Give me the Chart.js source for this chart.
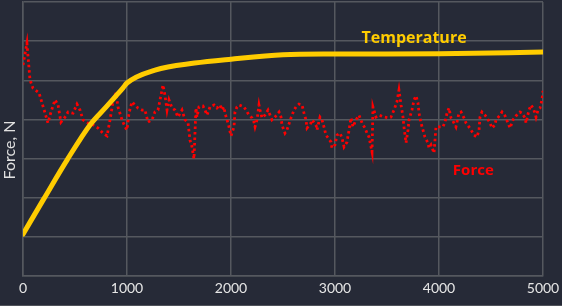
<!DOCTYPE html>
<html>
<head>
<meta charset="utf-8">
<script src="https://cdn.jsdelivr.net/npm/chart.js@4"></script>
<style>
  html, body { margin: 0; padding: 0; background: #262a37; }
  #wrap { width: 562px; height: 305px; border-bottom: 1px solid #4f525a; }
</style>
</head>
<body>
<div id="wrap"><canvas id="c" width="562" height="305"></canvas></div>
<script>
// ---- data ----
const xTickValues = [0, 1000, 2000, 3000, 4000, 5000];

const tempX = [0, 200, 423, 644, 800, 900, 960, 1000, 1270, 1650, 2000, 2500, 3000, 4000, 5000];
const tempY = [1.07, 1.97, 2.96, 3.86, 4.32, 4.62, 4.80, 4.93, 5.26, 5.44, 5.54, 5.65, 5.67, 5.68, 5.72];

const forceX = [0, 38, 67, 96, 154, 183, 231, 240, 269, 308, 337, 365, 404, 433, 481, 519, 548, 577, 625, 673, 721, 769, 808, 837, 865, 894, 913, 952, 981, 1000,
  1019, 1048, 1077, 1106, 1144, 1173, 1202, 1240, 1269, 1298, 1327, 1346, 1365, 1385, 1404, 1433, 1461, 1490, 1529, 1558, 1587, 1606, 1625, 1644, 1663, 1673, 1692,
  1731, 1750, 1769, 1798, 1837, 1865, 1894, 1913, 1933, 1942, 1962, 1981, 2000, 2029, 2038, 2058, 2077, 2125, 2144, 2173, 2202, 2221, 2231, 2250, 2269, 2279, 2298,
  2327, 2356, 2394, 2423, 2462, 2481, 2490, 2519, 2538, 2577, 2606, 2625, 2654, 2683, 2702, 2721, 2731, 2769, 2779, 2817, 2827, 2856, 2875, 2894, 2913, 2933, 2962,
  2971, 3000, 3019, 3048, 3067, 3087, 3115, 3135, 3154, 3173, 3202, 3231, 3260, 3288, 3308, 3327, 3356, 3365, 3394, 3423, 3471, 3510, 3538, 3567, 3596, 3615, 3635,
  3654, 3663, 3683, 3702, 3712, 3740, 3760, 3779, 3798, 3808, 3827, 3846, 3865, 3894, 3904, 3923, 3952, 3971, 4000, 4038, 4058, 4077, 4096, 4115, 4144, 4163, 4192,
  4212, 4240, 4260, 4288, 4308, 4337, 4365, 4385, 4394, 4413, 4442, 4462, 4490, 4510, 4538, 4548, 4587, 4606, 4635, 4663, 4683, 4712, 4740, 4779, 4798, 4827, 4837,
  4865, 4885, 4904, 4923, 4933, 4952, 4971, 4990, 5000];
const forceY = [5.39, 5.95, 5.01, 4.80, 4.68, 4.42, 3.99, 3.91, 4.19, 4.50, 4.37, 3.93, 4.06, 4.19, 4.16, 4.39, 4.24, 3.99, 3.91, 3.86, 3.78, 3.65, 3.58, 3.99, 4.45, 4.68, 4.32, 3.99, 3.81, 3.73,
  4.16, 4.45, 4.37, 4.29, 4.24, 4.24, 3.93, 3.99, 4.19, 4.24, 4.62, 4.88, 4.62, 4.24, 4.50, 4.29, 4.24, 4.06, 4.24, 3.99, 3.91, 3.47, 3.30, 2.99, 4.29, 4.06, 4.32,
  4.34, 4.24, 4.11, 4.32, 4.37, 4.29, 4.37, 4.24, 4.32, 4.16, 3.99, 3.81, 3.58, 3.81, 4.19, 4.32, 4.37, 4.32, 4.24, 4.11, 4.04, 3.93, 3.81, 3.99, 4.37, 4.24, 4.04,
  4.11, 4.24, 3.99, 4.06, 4.19, 4.06, 3.86, 3.65, 3.73, 4.04, 4.24, 4.32, 4.39, 4.37, 4.16, 3.99, 3.78, 3.91, 3.99, 3.86, 3.73, 4.06, 3.99, 3.81, 3.60, 3.53, 3.42,
  3.27, 3.35, 3.60, 3.65, 3.53, 3.30, 3.42, 3.73, 4.04, 3.81, 3.99, 4.11, 3.91, 3.78, 3.65, 3.55, 3.17, 4.32, 4.06, 4.11, 4.06, 4.04, 4.06, 4.24, 4.45, 4.75, 4.37,
  4.06, 3.81, 3.40, 3.73, 3.99, 4.24, 4.50, 4.60, 4.42, 4.16, 3.91, 3.73, 3.55, 3.40, 3.27, 3.35, 3.14, 3.81, 3.81, 3.81, 3.93, 4.16, 4.29, 4.04, 3.91, 3.81, 4.16,
  4.19, 4.04, 3.91, 3.81, 3.73, 3.60, 3.55, 3.73, 4.06, 4.19, 4.11, 4.04, 3.91, 3.78, 3.86, 3.99, 4.11, 4.19, 4.09, 3.91, 3.78, 3.99, 4.09, 4.19, 4.16, 4.04, 3.91,
  4.24, 4.37, 4.29, 4.16, 4.06, 4.24, 4.29, 4.50, 4.73];

const seriesLabels = [
  { text: 'Temperature', x: 3760, y: 6.06, color: '#ffcc00', font: '700 16px "Open Sans"' },
  { text: 'Force', x: 4330, y: 2.70, color: '#ff0000', font: '700 15px "Open Sans"' }
];
const yTitle = 'Force, N';

// ---- chart ----
const gridColor = '#55585f';

const labelPlugin = {
  id: 'labels',
  afterDraw(chart) {
    const ctx = chart.ctx;
    const xs = chart.scales.x, ys = chart.scales.y;
    ctx.save();
    ctx.textAlign = 'center';
    ctx.textBaseline = 'middle';
    seriesLabels.forEach(l => {
      ctx.font = l.font;
      ctx.fillStyle = l.color;
      ctx.fillText(l.text, xs.getPixelForValue(l.x), ys.getPixelForValue(l.y));
    });
    ctx.translate(10, 150);
    ctx.rotate(-Math.PI / 2);
    ctx.font = '400 16px Lato';
    ctx.fillStyle = '#e0e0e0';
    ctx.fillText(yTitle, 0, 0);
    ctx.restore();
  }
};

new Chart(document.getElementById('c'), {
  type: 'line',
  data: {
    datasets: [
      {
        label: 'Temperature',
        data: tempX.map((x, i) => ({ x, y: tempY[i] })),
        borderColor: '#ffcc00',
        borderWidth: 5,
        pointRadius: 0,
        cubicInterpolationMode: 'monotone',
        borderCapStyle: 'round'
      },
      {
        label: 'Force',
        data: forceX.map((x, i) => ({ x, y: forceY[i] })),
        borderColor: '#ff0000',
        borderWidth: 2.8,
        borderDash: [2.5, 3],
        pointRadius: 0,
        tension: 0
      }
    ]
  },
  options: {
    responsive: false,
    animation: false,
    devicePixelRatio: 1,
    layout: { padding: { top: 2, right: 19, left: 0, bottom: 0 } },
    plugins: { legend: { display: false }, tooltip: { enabled: false } },
    scales: {
      x: {
        type: 'linear',
        min: 0, max: 5000,
        afterBuildTicks(scale) { scale.ticks = xTickValues.map(v => ({ value: v })); },
        afterFit(scale) { scale.height = 29; scale.paddingRight = 0; scale.paddingLeft = 0; },
        grid: { color: gridColor, lineWidth: 1.5, drawTicks: false },
        border: { color: gridColor, width: 1.5 },
        ticks: {
          color: '#e6e6e6', font: { family: 'Lato', size: 14 }, padding: 4, maxRotation: 0,
          callback: v => String(v)
        }
      },
      y: {
        min: 0, max: 7,
        afterFit(scale) { scale.width = 23; },
        grid: { color: gridColor, lineWidth: 1.5, drawTicks: false },
        border: { color: gridColor, width: 1.5 },
        ticks: { display: false, stepSize: 1 }
      }
    }
  },
  plugins: [labelPlugin]
});
</script>
</body>
</html>
